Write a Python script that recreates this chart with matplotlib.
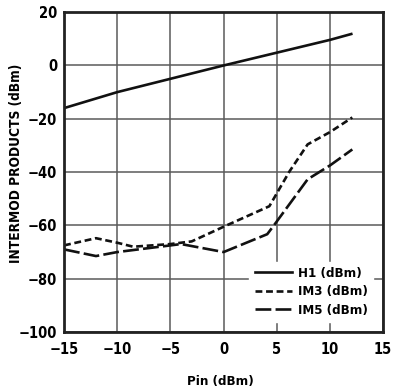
import matplotlib.pyplot as plt

plt.rcParams['font.family'] = ['DejaVu Sans']
plt.rcParams['font.stretch'] = 'condensed'
plt.rcParams['font.weight'] = 'bold'

# curves
h1_x = [-15, -10, -5, 0, 5, 10, 12]
h1_y = [-16, -10, -5, 0, 4.8, 9.6, 11.8]

im3_x = [-15, -12, -10, -8.5, -5, -3, 0, 4.3, 6.2, 7.9, 10, 12.1]
im3_y = [-67.5, -64.8, -66.5, -68, -67, -66, -60.5, -52.8, -39.7, -29.6, -25, -19.5]

im5_x = [-15, -12, -10, -5, -4, 0, 4.1, 4.8, 7.9, 10, 12.1]
im5_y = [-69, -71.5, -70, -67.5, -67, -70, -63.3, -59.6, -42.7, -37.5, -31.5]

xticks = [-15, -10, -5, 0, 5, 10, 15]
yticks = [20, 0, -20, -40, -60, -80, -100]

fig = plt.figure(figsize=(3.93, 3.92), dpi=100)
ax = fig.add_axes([0.163, 0.153, 0.812, 0.816])

ax.plot(h1_x, h1_y, color='#111111', lw=1.9, label='H1 (dBm)')
ax.plot(im3_x, im3_y, color='#111111', lw=1.9, ls=(0, (2.6, 1.4)), label='IM3 (dBm)')
ax.plot(im5_x, im5_y, color='#111111', lw=1.9, ls=(0, (6.0, 1.6)), label='IM5 (dBm)')

ax.set_xlim(-15, 15)
ax.set_ylim(-100, 20)
ax.set_xticks(xticks)
ax.set_yticks(yticks)
ax.tick_params(axis='x', length=0, labelsize=10.5, pad=7)
ax.tick_params(axis='y', length=0, labelsize=10.5, pad=5)
ax.grid(True, color='#5a5a5a', lw=1.1)
ax.set_axisbelow(True)
for s in ax.spines.values():
    s.set_linewidth(2.0)
    s.set_color('#222222')

ax.set_xlabel('Pin (dBm)', fontsize=9.5, fontweight='bold')
ax.set_ylabel('INTERMOD PRODUCTS (dBm)', fontsize=9.8, fontweight='bold')
ax.xaxis.set_label_coords(0.49, -0.135)
ax.yaxis.set_label_coords(-0.13, 0.528)

leg = ax.legend(loc='lower right', bbox_to_anchor=(0.99, 0.011), frameon=True,
                fontsize=9.5, handlelength=2.8, borderpad=0.4, labelspacing=0.4,
                handletextpad=0.5, fancybox=False)
leg.get_frame().set_edgecolor('white')
leg.get_frame().set_alpha(1.0)

fig.savefig('out.png', dpi=100)
